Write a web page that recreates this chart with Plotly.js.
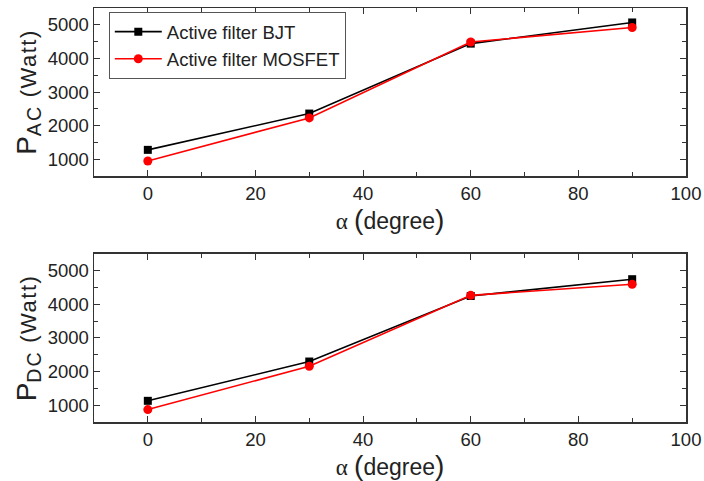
<!DOCTYPE html>
<html><head><meta charset="utf-8">
<script src="https://cdn.plot.ly/plotly-3.0.1.min.js"></script>
<style>html,body{margin:0;padding:0;background:#fff}</style>
</head><body><div id="chart" style="width:704px;height:481px"></div>
<script>
var alpha = [0, 30, 60, 90];
var pacBJT = [1280, 2360, 4440, 5070];
var pacMOSFET = [950, 2230, 4490, 4920];
var pdcBJT = [1130, 2300, 4250, 4750];
var pdcMOSFET = [870, 2160, 4270, 4600];
var seriesNames = ['Active filter BJT', 'Active filter MOSFET'];
var xTicks = [0, 20, 40, 60, 80, 100];
var yTicks = [1000, 2000, 3000, 4000, 5000];

var FONT = 'Liberation Sans, Arial, sans-serif';
var traces = [
  {x: alpha, y: pacBJT, name: seriesNames[0], mode: 'lines+markers', xaxis: 'x', yaxis: 'y',
   line: {color: '#000', width: 1.6}, marker: {symbol: 'square', size: 8, color: '#000'}},
  {x: alpha, y: pacMOSFET, name: seriesNames[1], mode: 'lines+markers', xaxis: 'x', yaxis: 'y',
   line: {color: '#ff0000', width: 1.6}, marker: {symbol: 'circle', size: 9, color: '#ff0000'}},
  {x: alpha, y: pdcBJT, name: seriesNames[0], mode: 'lines+markers', xaxis: 'x2', yaxis: 'y2', showlegend: false,
   line: {color: '#000', width: 1.6}, marker: {symbol: 'square', size: 8, color: '#000'}},
  {x: alpha, y: pdcMOSFET, name: seriesNames[1], mode: 'lines+markers', xaxis: 'x2', yaxis: 'y2', showlegend: false,
   line: {color: '#ff0000', width: 1.6}, marker: {symbol: 'circle', size: 9, color: '#ff0000'}}
];

var xTitle = "<span style='font-family:Liberation Serif'>α</span> <span style='font-size:28px'>(</span>degree<span style='font-size:28px'>)</span>";
function yTitle(sub) {
  return "P<sub><span style='letter-spacing:2px'>" + sub + "</span></sub><span style='font-size:22px;letter-spacing:1.5px'> (Watt)</span>";
}

function xax(anchor) {
  return {anchor: anchor, domain: [0, 1], range: [-10, 100], tickvals: xTicks,
    ticks: 'inside', ticklen: 6, tickwidth: 1, tickcolor: '#333', showgrid: false, zeroline: false,
    showline: true, linecolor: '#333', linewidth: 1.5, mirror: 'allticks',
    minor: {ticks: 'inside', tickvals: [-10, 10, 30, 50, 70, 90], ticklen: 4, tickcolor: '#333'},
    tickfont: {family: FONT, size: 18.5, color: '#222'},
    title: {text: xTitle, font: {family: FONT, size: 23, color: '#222'}, standoff: 0}};
}
function yax(anchor, domain, title) {
  return {anchor: anchor, domain: domain, range: [500, 5500], tickvals: yTicks,
    ticks: 'inside', ticklen: 6, tickwidth: 1, tickcolor: '#333', showgrid: false, zeroline: false,
    showline: true, linecolor: '#333', linewidth: 1.5, mirror: 'allticks',
    minor: {ticks: 'inside', tickvals: [1500, 2500, 3500, 4500], ticklen: 4, tickcolor: '#333'},
    tickfont: {family: FONT, size: 18.5, color: '#222'},
    title: {text: title, font: {family: FONT, size: 28, color: '#222'}, standoff: 3}};
}

var layout = {
  width: 704, height: 481,
  margin: {l: 94, r: 18, t: 8, b: 59},
  paper_bgcolor: '#fff', plot_bgcolor: '#fff',
  showlegend: true,
  legend: {x: 0.025, y: 0.99, xanchor: 'left', yanchor: 'top', bgcolor: '#fff',
    bordercolor: '#555', borderwidth: 1, font: {family: FONT, size: 18.5, color: '#222'},
    tracegroupgap: 0, itemwidth: 47},
  xaxis: xax('y'),
  yaxis: yax('x', [0.594, 1], yTitle('AC')),
  xaxis2: xax('y2'),
  yaxis2: yax('x2', [0, 0.4058], yTitle('DC'))
};
Plotly.newPlot('chart', traces, layout, {displayModeBar: false, staticPlot: true});
</script></body></html>
